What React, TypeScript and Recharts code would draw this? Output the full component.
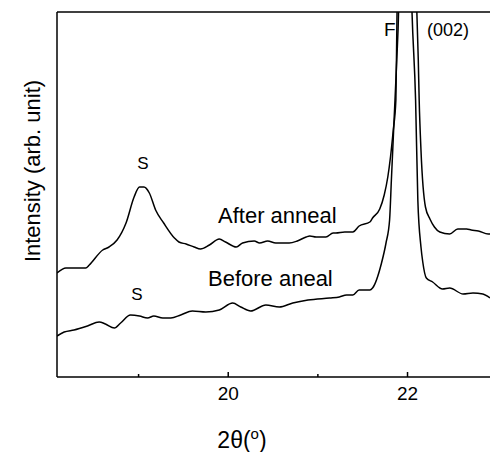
import { Line, LineChart, ReferenceLine, XAxis, YAxis } from 'recharts'

// 2θ (degrees) and intensity (arb. unit)
const afterTheta = [
  18.09, 18.19, 18.41, 18.45, 18.6, 18.67, 18.76, 18.86, 18.95, 19.01, 19.06, 19.12, 19.19, 19.28,
  19.4, 19.45, 19.53, 19.62, 19.69, 19.79, 19.9, 19.97, 20.09, 20.16, 20.29, 20.35, 20.44, 20.53,
  20.68, 20.77, 20.87, 20.91, 20.98, 21.09, 21.17, 21.2, 21.3, 21.39, 21.46, 21.58, 21.61, 21.69,
  21.74, 21.78, 21.81, 21.84, 21.87, 21.883, 21.89, 21.98, 22.09, 22.1, 22.12, 22.13, 22.15, 22.2,
  22.25, 22.3, 22.36, 22.47, 22.56, 22.66, 22.71, 22.79, 22.9, 22.92,
]
const afterIntensity = [
  104, 109, 109, 112, 127, 130, 137, 154, 180, 190, 190, 184, 167, 154,
  139, 135, 133, 130, 128, 132, 138, 135, 130, 134, 136, 134, 136, 134,
  134, 136, 140, 141, 140, 140, 144, 144, 145, 145, 151, 155, 159, 168,
  182, 200, 220, 246, 277, 365, 397, 627, 397, 377, 317, 277, 227, 170,
  158, 150, 145, 143, 148, 148, 147, 146, 143, 143,
]

const beforeTheta = [
  18.09, 18.17, 18.28, 18.43, 18.56, 18.63, 18.73, 18.8, 18.91, 19.01, 19.1, 19.17, 19.27, 19.36,
  19.47, 19.6, 19.75, 19.9, 20.05, 20.14, 20.25, 20.42, 20.57, 20.72, 20.89, 21.13, 21.24, 21.32,
  21.39, 21.46, 21.58, 21.61, 21.71, 21.76, 21.8, 21.82, 21.85, 21.88, 21.9, 21.907, 21.97, 22.04,
  22.05, 22.09, 22.115, 22.15, 22.17, 22.21, 22.28, 22.39, 22.47, 22.62, 22.73, 22.84, 22.92,
]
const beforeIntensity = [
  41, 45, 47, 51, 55, 53, 49, 54, 62, 61, 59, 61, 59, 59,
  62, 66, 65, 67, 74, 70, 66, 72, 70, 74, 77, 79, 80, 82,
  82, 87, 87, 89, 114, 134, 157, 197, 257, 317, 365, 397, 627, 397,
  365, 277, 177, 130, 115, 99, 95, 88, 89, 83, 84, 83, 79,
]

const xTicks = [19, 20, 21, 22]
const labeledTicks = [20, 22]

const zip = (theta: number[], intensity: number[]) =>
  theta.map((x, i) => ({ x, y: intensity[i] }))

const afterData = zip(afterTheta, afterIntensity)
const beforeData = zip(beforeTheta, beforeIntensity)

const font = '"Liberation Sans", Arial, sans-serif'

function Tick(props: any) {
  const { x, y, payload } = props
  const major = labeledTicks.includes(payload.value)
  return (
    <g>
      <line x1={x} x2={x} y1={y} y2={y - (major ? 5 : 3)} stroke="#000" strokeWidth={1.5} />
      {major && (
        <text x={x} y={y + 23} textAnchor="middle" fontSize={19} fontFamily={font} fill="#000">
          {payload.value}
        </text>
      )}
    </g>
  )
}

export default function App() {
  return (
    <div style={{ position: 'absolute', left: 0, top: 0, width: 491, height: 452, background: '#fff' }}>
      <LineChart width={491} height={452} margin={{ top: 12, right: 1, bottom: 0, left: 0 }}>
        <XAxis
          type="number"
          dataKey="x"
          domain={[18.09, 22.92]}
          allowDataOverflow
          ticks={xTicks}
          tick={<Tick />}
          tickLine={false}
          tickSize={0}
          tickMargin={0}
          height={75}
          axisLine={{ stroke: '#000', strokeWidth: 1.5 }}
        />
        <YAxis
          type="number"
          domain={[0, 365]}
          allowDataOverflow
          width={57}
          tick={false}
          tickLine={false}
          axisLine={{ stroke: '#000', strokeWidth: 1.5 }}
        />
        <ReferenceLine y={365} stroke="#000" strokeWidth={1.5} />
        <Line
          data={afterData}
          dataKey="y"
          type="monotone"
          stroke="#000"
          strokeWidth={1.5}
          dot={false}
          isAnimationActive={false}
        />
        <Line
          data={beforeData}
          dataKey="y"
          type="monotone"
          stroke="#000"
          strokeWidth={1.5}
          dot={false}
          isAnimationActive={false}
        />
      </LineChart>
      <svg
        width={491}
        height={452}
        style={{ position: 'absolute', left: 0, top: 0, pointerEvents: 'none' }}
        fontFamily={font}
        fill="#000"
      >
        <text x={143} y={169} fontSize={17} textAnchor="middle">S</text>
        <text x={137} y={300} fontSize={17} textAnchor="middle">S</text>
        <text x={218} y={223} fontSize={22}>After anneal</text>
        <text x={208} y={286} fontSize={22}>Before aneal</text>
        <text x={384} y={36} fontSize={19}>F</text>
        <text x={427} y={36} fontSize={18}>(002)</text>
        <text x={242} y={448} fontSize={23} textAnchor="middle">
          2θ(<tspan fontSize={15} dy={-9}>o</tspan><tspan dy={9}>)</tspan>
        </text>
        <text
          x={40}
          y={171}
          fontSize={22}
          textAnchor="middle"
          transform="rotate(-90 40 171)"
        >
          Intensity (arb. unit)
        </text>
      </svg>
    </div>
  )
}
